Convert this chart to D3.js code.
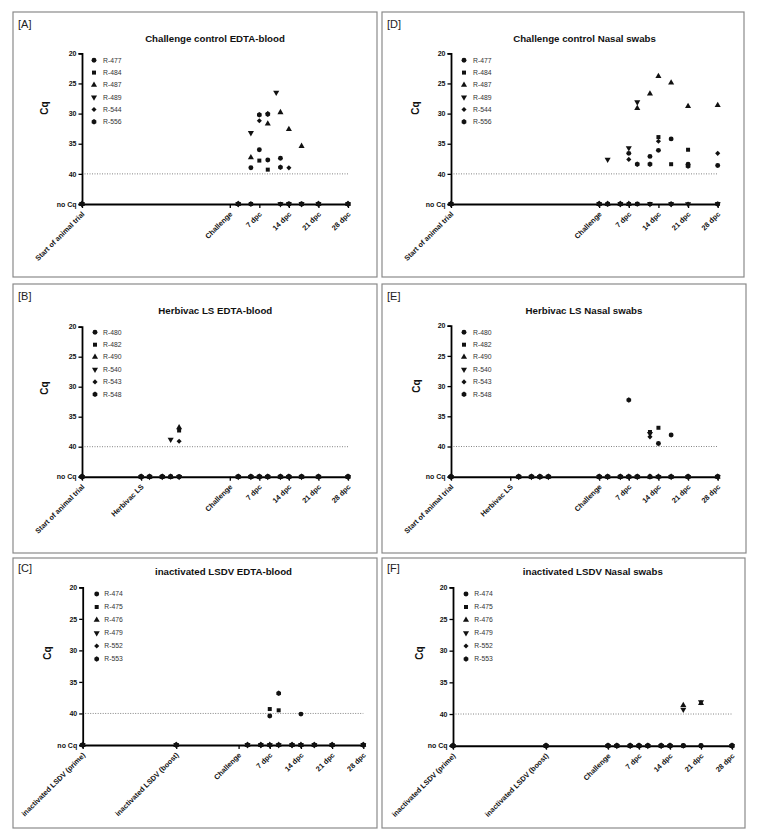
<!DOCTYPE html>
<html><head><meta charset="utf-8">
<script src="https://cdn.jsdelivr.net/npm/d3@7"></script>
<style>
body{margin:0;background:#fff;}
text{font-family:"Liberation Sans",Arial,sans-serif;}
</style>
</head><body>
<svg id="chart" width="759" height="834"></svg>
<script>
// ================= DATA =================
const cqTicks = [20, 25, 30, 35, 40, 45];      // 45 = "no Cq"
const NO_CQ = 45;
const CUTOFF = 40;

const animalsChallenge = ["R-477","R-484","R-487","R-489","R-544","R-556"];
const animalsHerbivac  = ["R-480","R-482","R-490","R-540","R-543","R-548"];
const animalsInact     = ["R-474","R-475","R-476","R-479","R-552","R-553"];

const ticksChallenge  = [-35, 0, 7, 14, 21, 28];
const labelsChallenge = ["Start of animal trial","Challenge","7 dpc","14 dpc","21 dpc","28 dpc"];
const ticksHerbivac   = [-35, -21, 0, 7, 14, 21, 28];
const labelsHerbivac  = ["Start of animal trial","Herbivac LS","Challenge","7 dpc","14 dpc","21 dpc","28 dpc"];
const ticksInact      = [-35, -14, 0, 7, 14, 21, 28];
const labelsInact     = ["inactivated LSDV (prime)","inactivated LSDV (boost)","Challenge","7 dpc","14 dpc","21 dpc","28 dpc"];

// positive results: [animal index, day, Cq]
const posA = [[0,5,39.0],[0,7,36.0],[0,9,37.7],[0,12,37.4],
              [1,7,37.8],[1,9,39.3],
              [2,5,37.3],[2,9,31.7],[2,12,29.8],[2,14,32.6],[2,17,35.4],
              [3,5,33.2],[3,11,26.5],
              [4,7,31.2],[4,9,30.0],[4,14,39.0],
              [5,7,30.2],[5,9,30.1],[5,12,38.9]];
const posD = [[0,7,36.6],[0,12,37.1],[0,14,36.1],[0,17,34.2],[0,21,38.4],[0,28,38.6],
              [1,14,33.9],[1,17,38.4],[1,21,36.0],
              [2,9,29.1],[2,12,26.7],[2,14,23.8],[2,17,24.9],[2,21,28.8],[2,28,28.6],
              [3,2,37.6],[3,7,35.7],[3,9,28.1],
              [4,7,37.6],[4,14,34.6],[4,28,36.6],
              [5,9,38.4],[5,12,38.4],[5,21,38.7]];
const posB = [[1,-12,37.3],[2,-12,36.8],[3,-14,38.8],[4,-12,39.1]];
const posE = [[5,7,32.3],[1,12,37.6],[1,14,36.9],[3,12,37.9],[4,12,38.4],[0,14,39.5],[0,17,38.1]];
const posC = [[0,7,40.4],[0,14,40.1],[1,7,39.3],[1,9,39.5],[5,9,36.8]];
const posF = [[2,17,38.6],[2,21,38.3],[3,17,39.3],[3,21,38.1]];

// days sampled without a Cq result
const negA = [-35,2,5,12,14,17,21,28];
const negD = [-35,0,2,5,7,9,12,17,21,28];
const negB = [-35,-21,-19,-16,-14,-12,2,5,7,9,12,14,17,21,28];
const negE = [-35,-19,-16,-14,-12,0,2,5,7,9,12,14,17,21,28];
const negC = [-35,-14,2,5,7,9,12,14,17,21,28];
const negF = [-35,-14,0,2,5,7,9,12,14,17,21,28];

const panels = [
  {tag:"[A]", title:"Challenge control EDTA-blood", animals:animalsChallenge, ticks:ticksChallenge, labels:labelsChallenge, pos:posA, neg:negA},
  {tag:"[D]", title:"Challenge control Nasal swabs", animals:animalsChallenge, ticks:ticksChallenge, labels:labelsChallenge, pos:posD, neg:negD},
  {tag:"[B]", title:"Herbivac LS EDTA-blood", animals:animalsHerbivac, ticks:ticksHerbivac, labels:labelsHerbivac, pos:posB, neg:negB},
  {tag:"[E]", title:"Herbivac LS Nasal swabs", animals:animalsHerbivac, ticks:ticksHerbivac, labels:labelsHerbivac, pos:posE, neg:negE},
  {tag:"[C]", title:"inactivated LSDV EDTA-blood", animals:animalsInact, ticks:ticksInact, labels:labelsInact, pos:posC, neg:negC},
  {tag:"[F]", title:"inactivated LSDV Nasal swabs", animals:animalsInact, ticks:ticksInact, labels:labelsInact, pos:posF, neg:negF}
];

// ================= LAYOUT =================
const layout = [
  {box:[13,12,377,277], x0:82,   x1:348,   y20:53.3,  yNo:204,   tagPos:[18,28],  titlePos:[215,42],    cq:[48,108],  leg:[94,103,60.3,12.3]},
  {box:[382,12,744,277],x0:451,  x1:717.7, y20:53.3,  yNo:204,   tagPos:[387,28], titlePos:[584.5,42],  cq:[419,108], leg:[464,473,60.3,12.3]},
  {box:[13,284,377,553],x0:82,   x1:348,   y20:326.7, yNo:476.7, tagPos:[18,300], titlePos:[215.3,314], cq:[48,388],  leg:[95,103,332.3,12.4]},
  {box:[382,284,746,553],x0:451, x1:717.7, y20:325.7, yNo:476.7, tagPos:[387,300],titlePos:[584,314],   cq:[420,386], leg:[464,473,332.3,12.4]},
  {box:[13,558,377,828],x0:82.7, x1:363.3, y20:587.3, yNo:745,   tagPos:[18,572], titlePos:[223.5,575], cq:[51,653],  leg:[96.7,104.3,594,13]},
  {box:[382,558,745,828],x0:453, x1:732,   y20:587.3, yNo:745.7, tagPos:[387,572],titlePos:[592.8,575], cq:[423,653], leg:[466,474.3,594,13]}
];

const symbolHex = {draw(ctx, size){
  const r = Math.sqrt(size/(1.5*Math.sqrt(3)));
  for(let i=0;i<6;i++){const a=Math.PI/3*i+Math.PI/6;const x=r*Math.cos(a),y=r*Math.sin(a); if(i) ctx.lineTo(x,y); else ctx.moveTo(x,y);}
  ctx.closePath();
}};
const markerDefs = [
  {type:d3.symbolCircle, size:19, rot:0},
  {type:d3.symbolSquare, size:16, rot:0},
  {type:d3.symbolTriangle, size:16, rot:0},
  {type:d3.symbolTriangle, size:16, rot:180},
  {type:d3.symbolSquare, size:13, rot:45},
  {type:symbolHex, size:19, rot:0}
];
function marker(g, idx, x, y){
  const m = markerDefs[idx];
  g.append("path").attr("d", d3.symbol().type(m.type).size(m.size)())
   .attr("transform", `translate(${x},${y}) rotate(${m.rot})`).attr("fill","#111");
}

const svg = d3.select("#chart");

panels.forEach((p, i) => {
  const L = layout[i];
  const g = svg.append("g");
  g.append("rect").attr("x",L.box[0]).attr("y",L.box[1]).attr("width",L.box[2]-L.box[0]).attr("height",L.box[3]-L.box[1])
   .attr("fill","none").attr("stroke","#8a8a8a").attr("stroke-width",1.2);
  g.append("text").attr("x",L.tagPos[0]).attr("y",L.tagPos[1]).attr("font-size",11).attr("fill","#222").text(p.tag);
  g.append("text").attr("x",L.titlePos[0]).attr("y",L.titlePos[1]).attr("text-anchor","middle")
   .attr("font-size",9.7).attr("font-weight","bold").attr("fill","#111").text(p.title);

  const x = d3.scaleLinear().domain([-35,28]).range([L.x0, L.x1]);
  const y = d3.scaleLinear().domain([20, NO_CQ]).range([L.y20, L.yNo]);

  // cutoff line
  g.append("line").attr("x1",L.x0).attr("x2",L.x1).attr("y1",y(CUTOFF)).attr("y2",y(CUTOFF))
   .attr("stroke","#777").attr("stroke-width",0.9).attr("stroke-dasharray","1,1.5");

  // y axis
  const ya = g.append("g").attr("transform",`translate(${L.x0},0)`)
    .call(d3.axisLeft(y).tickValues(cqTicks).tickSize(3.5).tickPadding(2)
      .tickFormat(d => d===NO_CQ ? "no Cq" : d));
  ya.select(".domain").attr("stroke","#000").attr("stroke-width",1.8);
  ya.selectAll(".tick line").attr("stroke","#000").attr("stroke-width",1.3);
  ya.selectAll(".tick text").attr("font-size",7).attr("font-weight","bold").attr("fill","#111")
    .attr("font-family","'Liberation Sans',Arial,sans-serif");

  // x axis
  const xa = g.append("g").attr("transform",`translate(0,${L.yNo})`)
    .call(d3.axisBottom(x).tickValues(p.ticks).tickSize(4).tickSizeOuter(0)
      .tickFormat((d,k) => p.labels[k]));
  xa.select(".domain").attr("stroke","#000").attr("stroke-width",2);
  xa.selectAll(".tick line").attr("stroke","#000").attr("stroke-width",1.3);
  xa.selectAll(".tick text").attr("font-size",7.3).attr("font-weight","bold").attr("fill","#111")
    .attr("font-family","'Liberation Sans',Arial,sans-serif")
    .attr("text-anchor","end").attr("dy","0.3em").attr("y",0)
    .attr("transform","translate(1,9) rotate(-45)");

  // Cq label
  g.append("text").attr("transform",`translate(${L.cq[0]},${L.cq[1]}) rotate(-90)`).attr("text-anchor","middle")
   .attr("font-size",10).attr("font-weight","bold").attr("fill","#111").text("Cq");

  // legend
  p.animals.forEach((a, k) => {
    const ly = L.leg[2] + k*L.leg[3];
    marker(g, k, L.leg[0], ly);
    g.append("text").attr("x",L.leg[1]).attr("y",ly).attr("dy","0.35em").attr("font-size",6.8).attr("fill","#333").text(a);
  });

  // negatives (no Cq) — each animal without a result on that day
  const pg = g.append("g");
  p.neg.forEach(d => {
    p.animals.forEach((a, k) => {
      const hasPos = p.pos.some(r => r[0]===k && r[1]===d);
      if(!hasPos) marker(pg, k, x(d), y(NO_CQ));
    });
  });
  // positives
  p.pos.forEach(r => marker(pg, r[0], x(r[1]), y(r[2])));
});
</script>
</body></html>
